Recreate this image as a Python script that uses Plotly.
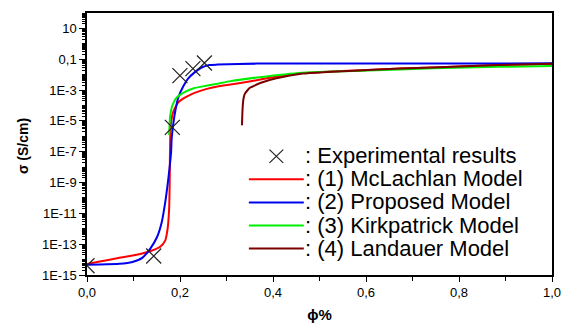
import plotly.graph_objects as go

# ---------------- data ----------------
phi_mclachlan = [0.0, 0.0274, 0.0696, 0.1188, 0.1399, 0.1576, 0.1681, 0.1736, 0.1766, 0.1778,
                 0.1783, 0.1800, 0.1857, 0.1962, 0.2103, 0.2314, 0.2559, 0.2806, 0.3086, 0.3580,
                 0.3930, 0.4283, 0.4635, 0.6040, 0.7447, 0.8854, 1.0]
sig_mclachlan = [5.1e-15, 7.4e-15, 1.3e-14, 2.5e-14, 3.9e-14, 6.8e-14, 1.7e-13, 1.15e-12, 1.9e-11, 8.1e-10,
                 4.4e-8, 4.8e-6, 4.0e-5, 1.6e-4, 3.2e-4, 6.6e-4, 1.15e-3, 1.7e-3, 2.3e-3, 4.0e-3,
                 6.3e-3, 9.1e-3, 0.0126, 0.0204, 0.0295, 0.042, 0.050]

phi_proposed = [0.0, 0.0274, 0.0696, 0.0977, 0.1188, 0.1365, 0.1504, 0.1610, 0.1681, 0.1751,
                0.1808, 0.1821, 0.1878, 0.1962, 0.2068, 0.2173, 0.2314, 0.2454, 0.2631, 0.2806,
                0.3650, 1.0]
sig_proposed = [4.7e-15, 4.8e-15, 5.3e-15, 7.0e-15, 1.3e-14, 5.4e-14, 2.8e-13, 2.9e-12, 4.9e-11, 2.0e-9,
                8.9e-8, 7.4e-7, 1.9e-5, 3.2e-4, 1.7e-3, 5.5e-3, 0.014, 0.028, 0.042, 0.045,
                0.052, 0.054]

phi_kirkpatrick = [0.1766, 0.1787, 0.1835, 0.1926, 0.2068, 0.2314, 0.2559, 0.2806, 0.3086, 0.3650,
                   0.4635, 0.6040, 0.7447, 0.8854, 1.0]
sig_kirkpatrick = [1.2e-6, 1.9e-5, 1.0e-4, 3.2e-4, 6.6e-4, 1.35e-3, 1.9e-3, 2.6e-3, 3.8e-3, 6.5e-3,
                   0.0135, 0.0186, 0.0257, 0.032, 0.037]

phi_landauer = [0.3333, 0.3340, 0.3350, 0.3369, 0.3397, 0.3439, 0.3502, 0.3580, 0.3650, 0.3791,
                0.4072, 0.4635, 0.6040, 0.7447, 0.8854, 1.0]
sig_landauer = [5.2e-6, 2.5e-5, 1.0e-4, 3.2e-4, 5.9e-4, 8.7e-4, 1.4e-3, 1.8e-3, 2.3e-3, 3.3e-3,
                5.8e-3, 0.0117, 0.0204, 0.0295, 0.042, 0.050]

phi_exp = [0.0, 0.1435, 0.1835, 0.1998, 0.2278, 0.2525]
sig_exp = [4.0e-15, 1.7e-14, 3.8e-6, 8.7e-3, 0.0245, 0.057]

legend_labels = [": Experimental results", ": (1) McLachlan Model", ": (2) Proposed Model",
                 ": (3) Kirkpatrick Model", ": (4) Landauer Model"]

x_tickvals = [0.0, 0.2, 0.4, 0.6, 0.8, 1.0]
x_ticktext = ["0,0", "0,2", "0,4", "0,6", "0,8", "1,0"]
y_tickvals = [1e-15, 1e-13, 1e-11, 1e-9, 1e-7, 1e-5, 1e-3, 1e-1, 10]
y_ticktext = ["1E-15", "1E-13", "1E-11", "1E-9", "1E-7", "1E-5", "1E-3", "0,1", "10"]

# ---------------- styles ----------------
RED = "#ff0000"
BLUE = "#0000ee"
GREEN = "#00ee00"
BROWN = "#7a0000"
FONT = "Liberation Sans, Arial, sans-serif"

fig = go.Figure()
series = [
    (phi_mclachlan, sig_mclachlan, RED),
    (phi_proposed, sig_proposed, BLUE),
    (phi_kirkpatrick, sig_kirkpatrick, GREEN),
    (phi_landauer, sig_landauer, BROWN),
]
for xs, ys, col in series:
    fig.add_trace(go.Scatter(x=xs, y=ys, mode="lines",
                             line=dict(color=col, width=2, shape="spline", smoothing=0.5),
                             showlegend=False, hoverinfo="skip"))

fig.add_trace(go.Scatter(x=phi_exp, y=sig_exp, mode="markers",
                         marker=dict(symbol="x-thin", size=15, line=dict(color="#222222", width=1.2)),
                         showlegend=False))

# minor tick positions for log axis
minor_y = []
for k in range(-15, 2):
    for n in range(1, 10):
        v = n * 10.0 ** k
        if n == 1 and (k % 2 != 0 or k == 1):
            continue
        minor_y.append(v)
minor_y += [10.0 ** k for k in range(-14, 2, 2)]

fig.update_xaxes(range=[0, 1], tickvals=x_tickvals, ticktext=x_ticktext,
                 ticks="outside", ticklen=5, tickwidth=1, tickcolor="black",
                 showline=True, linecolor="black", linewidth=1.5, mirror=True,
                 showgrid=False, zeroline=False,
                 tickfont=dict(family=FONT, size=13, color="black"),
                 minor=dict(tickvals=[0.1, 0.3, 0.5, 0.7, 0.9], ticks="outside", ticklen=4,
                            tickcolor="black", tickwidth=1),
                 title=dict(text="<b>ϕ%</b>", font=dict(family=FONT, size=15, color="black"),
                            standoff=10))
fig.update_yaxes(type="log", range=[-15, 2], tickvals=y_tickvals, ticktext=y_ticktext,
                 ticks="outside", ticklen=6, tickwidth=1, tickcolor="black",
                 showline=True, linecolor="black", linewidth=1.5, mirror=True,
                 showgrid=False, zeroline=False,
                 tickfont=dict(family=FONT, size=13, color="black"),
                 minor=dict(tickvals=minor_y, ticks="outside", ticklen=3,
                            tickcolor="black", tickwidth=1))

L, R, T, B = 87, 11, 12, 42
W, H = 572, 332
PW, PH = W - L - R, H - T - B


def px(x):
    return (x - L) / PW


def py(y):
    return (H - B - y) / PH


annotations = [
    dict(text="<b>σ (S/cm)</b>", textangle=-90, xref="paper", yref="paper",
         x=px(22), y=py(153), xanchor="center", yanchor="middle", showarrow=False,
         font=dict(family=FONT, size=14, color="black")),
]
row_y = [163, 188, 212.5, 237, 261.5]
for lab, ry in zip(legend_labels, row_y):
    annotations.append(dict(text=lab, xref="paper", yref="paper", x=px(307), y=py(ry),
                            xanchor="left", yanchor="middle", showarrow=False,
                            font=dict(family=FONT, size=22, color="black")))

shapes = []
for col, ry in zip([RED, BLUE, GREEN, BROWN], row_y[1:]):
    shapes.append(dict(type="line", xref="paper", yref="paper", x0=px(252), x1=px(308),
                       y0=py(ry + 0.5), y1=py(ry + 0.5), line=dict(color=col, width=2)))
# legend cross symbol
cx, cy, hs = 280, 164, 7
shapes.append(dict(type="line", xref="paper", yref="paper", x0=px(cx - hs), x1=px(cx + hs),
                   y0=py(cy - hs), y1=py(cy + hs), line=dict(color="#222222", width=1.2)))
shapes.append(dict(type="line", xref="paper", yref="paper", x0=px(cx - hs), x1=px(cx + hs),
                   y0=py(cy + hs), y1=py(cy - hs), line=dict(color="#222222", width=1.2)))

fig.update_layout(width=W, height=H, margin=dict(l=L, r=R, t=T, b=B),
                  paper_bgcolor="white", plot_bgcolor="white",
                  annotations=annotations, shapes=shapes, showlegend=False)

fig.write_html("out.html")
